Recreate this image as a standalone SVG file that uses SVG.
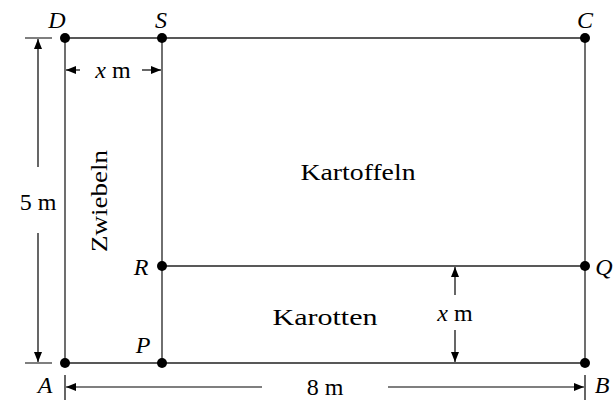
<svg xmlns="http://www.w3.org/2000/svg" width="613" height="405" viewBox="0 0 613 405">
<style>
.l{stroke:#222;stroke-width:1.3;fill:none}
.d{stroke:#000;stroke-width:1.2;fill:none}
.pt{fill:#000}
</style>
<defs>
<marker id="ah" viewBox="0 0 10 10" refX="10" refY="5" markerWidth="10" markerHeight="10" markerUnits="userSpaceOnUse" orient="auto">
<path d="M0,1 L10,5 L0,9 Z" fill="#000"/>
</marker>
</defs>
<g id="connectors">
<path class="l" d="M65,38 H585 V363 H65 Z"/>
<path class="l" d="M162,38 V363"/>
<path class="l" d="M162,266 H585"/>
<path class="d" d="M25,38 H52 M25,363 H52"/>
<path class="d" d="M38,167 V39" marker-end="url(#ah)"/>
<path class="d" d="M38,233 V362" marker-end="url(#ah)"/>
<path class="d" d="M80,70 H66" marker-end="url(#ah)"/>
<path class="d" d="M142,70 H161" marker-end="url(#ah)"/>
<path class="d" d="M65,375 V400 M585,375 V400"/>
<path class="d" d="M262,387 H66" marker-end="url(#ah)"/>
<path class="d" d="M388,387 H584" marker-end="url(#ah)"/>
<path class="d" d="M455,295 V267" marker-end="url(#ah)"/>
<path class="d" d="M455,330 V362" marker-end="url(#ah)"/>
</g>
<g font-family="'Liberation Serif', 'DejaVu Serif', serif" font-size="24" fill="#000">
<g id="D"><circle class="pt" cx="65" cy="38" r="5"/><text font-style="italic" x="57" y="28" text-anchor="middle">D</text></g>
<g id="S"><circle class="pt" cx="162" cy="38" r="5"/><text font-style="italic" x="161" y="28" text-anchor="middle">S</text></g>
<g id="C"><circle class="pt" cx="585" cy="38" r="5"/><text font-style="italic" x="585" y="28" text-anchor="middle">C</text></g>
<g id="A"><circle class="pt" cx="65" cy="363" r="5"/><text font-style="italic" x="45" y="393" text-anchor="middle">A</text></g>
<g id="P"><circle class="pt" cx="162" cy="363" r="5"/><text font-style="italic" x="143" y="353" text-anchor="middle">P</text></g>
<g id="B"><circle class="pt" cx="585" cy="363" r="5"/><text font-style="italic" x="602" y="393" text-anchor="middle">B</text></g>
<g id="R"><circle class="pt" cx="162" cy="266" r="5"/><text font-style="italic" x="141" y="275" text-anchor="middle">R</text></g>
<g id="Q"><circle class="pt" cx="585" cy="266" r="5"/><text font-style="italic" x="604" y="275" text-anchor="middle">Q</text></g>
<g id="labels">
<text x="358" y="180" text-anchor="middle" textLength="115" lengthAdjust="spacingAndGlyphs">Kartoffeln</text>
<text x="325" y="325" text-anchor="middle" textLength="105" lengthAdjust="spacingAndGlyphs">Karotten</text>
<text transform="translate(107,201) rotate(-90)" text-anchor="middle" textLength="102" lengthAdjust="spacingAndGlyphs">Zwiebeln</text>
<text x="38" y="210" text-anchor="middle">5 m</text>
<text x="113" y="78" text-anchor="middle"><tspan font-style="italic">x</tspan> m</text>
<text x="455" y="321" text-anchor="middle"><tspan font-style="italic">x</tspan> m</text>
<text x="325" y="395" text-anchor="middle">8 m</text>
</g>
</g>
</svg>
